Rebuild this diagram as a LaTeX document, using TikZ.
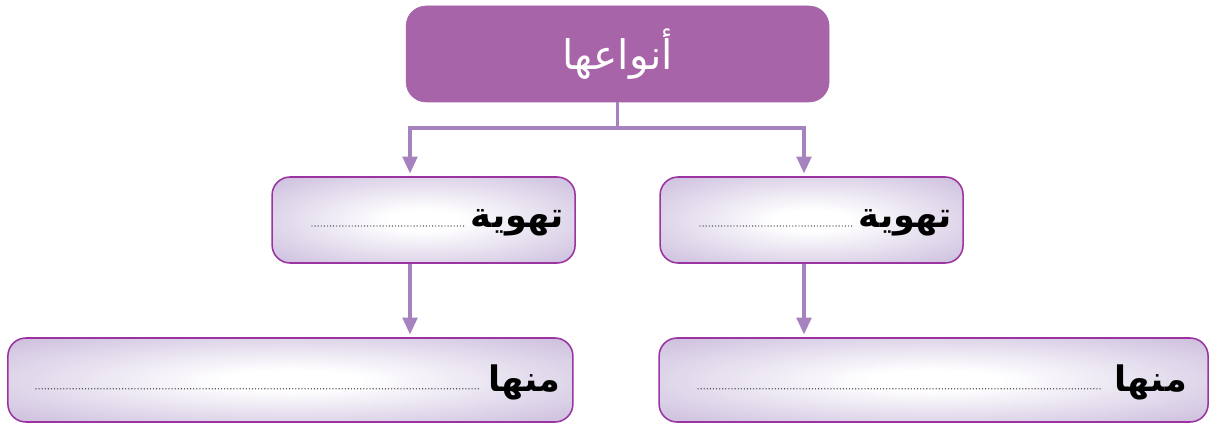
\documentclass[tikz,border=0pt]{standalone}
\usepackage{fontspec}
\newfontfamily\arabicfont[Script=Arabic]{DejaVu Sans}
\TeXXeTstate=1
\usetikzlibrary{arrows.meta,positioning}
\definecolor{headfill}{RGB}{168,100,168}
\definecolor{boxline}{RGB}{155,52,160}
\definecolor{boxshade}{RGB}{206,193,223}
\definecolor{linkcol}{RGB}{166,130,190}
\pgfdeclareradialshading{softlav}{\pgfpoint{0bp}{0bp}}{color(0bp)=(white); color(6bp)=(white); color(34bp)=(boxshade); color(100bp)=(boxshade)}
\tikzset{
  head/.style={draw=headfill,fill=headfill,rounded corners=0.5cm,minimum width=10.575cm,minimum height=2.4cm},
  lavbox/.style={draw=boxline,line width=1.1pt,rounded corners=0.45cm,shading=softlav,minimum height=2.15cm},
  word/.style={font=\arabicfont\bfseries\fontsize{25}{30}\selectfont,text=black,inner sep=0pt},
  dots/.style={line width=1pt,line cap=round,dash pattern=on 0pt off 2.2pt,black!75},
  wire/.style={draw=linkcol,line width=2.3pt},
  link/.style={wire,-{Triangle[length=12pt,width=10.5pt]},shorten >=2pt}
}
\begin{document}
\begin{tikzpicture}
\useasboundingbox (0,0) rectangle (30.225,-10.6);

\node [head] (kinds) at (15.44,-1.35) {};
\node [font=\arabicfont\fontsize{29}{34}\selectfont,text=white] at (kinds) {\beginR أنواعها\endR};

\node [lavbox,minimum width=7.575cm] (ventR) at (20.29,-5.5) {};
\node [lavbox,minimum width=7.575cm] (ventL) at (10.59,-5.5) {};
\node [lavbox,minimum width=13.725cm,minimum height=2.1cm] (exR) at (23.34,-9.5) {};
\node [lavbox,minimum width=14.125cm,minimum height=2.1cm] (exL) at (7.26,-9.5) {};

% labels and dotted lines
\node [word,anchor=east] (ventRw) at (23.8,-5.58) {\beginR تهوية\endR};
\draw [dots] (17.5,-5.65) -- (21.3,-5.65);
\node [word,anchor=east] (ventLw) at (14.1,-5.58) {\beginR تهوية\endR};
\draw [dots] (7.8,-5.65) -- (11.6,-5.65);
\node [word,anchor=east] (exRw) at (29.68,-9.55) {\beginR منها\endR};
\draw [dots] (17.45,-9.72) -- (27.55,-9.72);
\node [word,anchor=east] (exLw) at (14.02,-9.55) {\beginR منها\endR};
\draw [dots] (0.9,-9.72) -- (12.0,-9.72);

% connectors
\coordinate (fork) at (15.44,-3.2);
\coordinate (forkL) at (10.25,-3.2);
\coordinate (forkR) at (20.1,-3.2);
\draw [wire] (kinds.south) -- (fork);
\draw [link] (fork) -- (forkL) -- (forkL |- ventL.north);
\draw [link] (fork) -- (forkR) -- (forkR |- ventR.north);
\draw [link] (ventL.south -| forkL) -- (forkL |- exL.north);
\draw [link] (ventR.south -| forkR) -- (forkR |- exR.north);
\end{tikzpicture}
\end{document}
